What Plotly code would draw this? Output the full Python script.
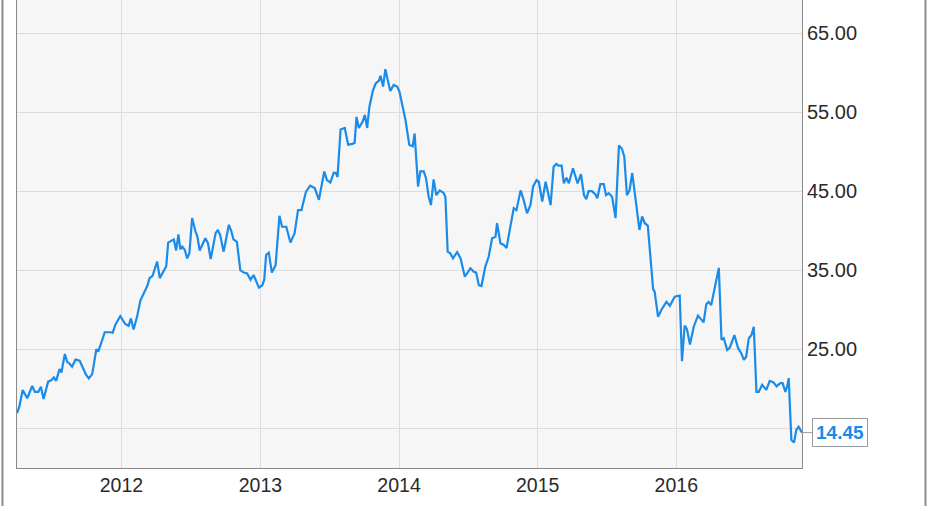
import plotly.graph_objects as go

dates = [
    "2011-04-01", "2011-04-07", "2011-04-16", "2011-04-28", "2011-05-11", "2011-05-18", "2011-05-27",
    "2011-06-03", "2011-06-10", "2011-06-22", "2011-07-01", "2011-07-07", "2011-07-13", "2011-07-22",
    "2011-07-27", "2011-08-05", "2011-08-11", "2011-08-17", "2011-08-24", "2011-09-02", "2011-09-13",
    "2011-09-22", "2011-09-30", "2011-10-07", "2011-10-16", "2011-10-27", "2011-11-01", "2011-11-09",
    "2011-11-18", "2011-12-03", "2011-12-09", "2011-12-16", "2011-12-29",
    "2012-01-11", "2012-01-20", "2012-01-26", "2012-02-02", "2012-02-11", "2012-02-20", "2012-03-09",
    "2012-03-15", "2012-03-23", "2012-04-04", "2012-04-11", "2012-04-21", "2012-04-28", "2012-05-03",
    "2012-05-12", "2012-05-18", "2012-05-24", "2012-05-30", "2012-06-04", "2012-06-09", "2012-06-16",
    "2012-06-22", "2012-06-28", "2012-07-05", "2012-07-14", "2012-07-19", "2012-07-25", "2012-08-01",
    "2012-08-09", "2012-08-16", "2012-08-23", "2012-09-05", "2012-09-11", "2012-09-17", "2012-09-26",
    "2012-10-10", "2012-10-16", "2012-10-22", "2012-10-31", "2012-11-09", "2012-11-18", "2012-11-27",
    "2012-12-06", "2012-12-14", "2012-12-19", "2012-12-28",
    "2013-01-06", "2013-01-11", "2013-01-16", "2013-01-23", "2013-01-31", "2013-02-10", "2013-02-20",
    "2013-02-27", "2013-03-10", "2013-03-21", "2013-04-01", "2013-04-10", "2013-04-19", "2013-05-01",
    "2013-05-12", "2013-05-24", "2013-06-04", "2013-06-18", "2013-06-25", "2013-07-04", "2013-07-13",
    "2013-07-19", "2013-07-23", "2013-07-31", "2013-08-11", "2013-08-20", "2013-08-31", "2013-09-06",
    "2013-09-11", "2013-09-17", "2013-09-27", "2013-10-03", "2013-10-09", "2013-10-15", "2013-10-24",
    "2013-10-31", "2013-11-09", "2013-11-13", "2013-11-20", "2013-11-26", "2013-12-02", "2013-12-09",
    "2013-12-18", "2013-12-27",
    "2014-01-02", "2014-01-09", "2014-01-18", "2014-01-28", "2014-02-06", "2014-02-11", "2014-02-20",
    "2014-02-26", "2014-03-07", "2014-03-13", "2014-03-20", "2014-03-26", "2014-04-02", "2014-04-09",
    "2014-04-18", "2014-04-28", "2014-05-03", "2014-05-09", "2014-05-16", "2014-05-23", "2014-06-03",
    "2014-06-12", "2014-06-23", "2014-06-29", "2014-07-08", "2014-07-17", "2014-07-23", "2014-07-30",
    "2014-08-06", "2014-08-16", "2014-08-25", "2014-09-03", "2014-09-12", "2014-09-16", "2014-09-25",
    "2014-10-04", "2014-10-11", "2014-10-21", "2014-10-30", "2014-11-06", "2014-11-17", "2014-11-25",
    "2014-12-04", "2014-12-13", "2014-12-20", "2014-12-29",
    "2015-01-04", "2015-01-13", "2015-01-22", "2015-02-04", "2015-02-12", "2015-02-19", "2015-02-25",
    "2015-03-05", "2015-03-11", "2015-03-18", "2015-03-24", "2015-04-04", "2015-04-10", "2015-04-16",
    "2015-04-25", "2015-05-03", "2015-05-09", "2015-05-15", "2015-05-24", "2015-06-02", "2015-06-07",
    "2015-06-15", "2015-06-24", "2015-06-30", "2015-07-07", "2015-07-16", "2015-07-25", "2015-08-03",
    "2015-08-11", "2015-08-17", "2015-08-24", "2015-08-31", "2015-09-07", "2015-09-17", "2015-09-26",
    "2015-10-03", "2015-10-10", "2015-10-18", "2015-10-25", "2015-11-01", "2015-11-05", "2015-11-14",
    "2015-11-23", "2015-12-06", "2015-12-15", "2015-12-28",
    "2016-01-10", "2016-01-16", "2016-01-23", "2016-01-29", "2016-02-06", "2016-02-16", "2016-02-27",
    "2016-03-08", "2016-03-13", "2016-03-20", "2016-03-26", "2016-04-02", "2016-04-08", "2016-04-16",
    "2016-04-22", "2016-04-29", "2016-05-05", "2016-05-14", "2016-05-21", "2016-06-02", "2016-06-12",
    "2016-06-20", "2016-06-27", "2016-07-03", "2016-07-10", "2016-07-17", "2016-07-23", "2016-07-30",
    "2016-08-05", "2016-08-14", "2016-08-25", "2016-09-03", "2016-09-13", "2016-09-21", "2016-10-01",
    "2016-10-07", "2016-10-14", "2016-10-19", "2016-10-23", "2016-10-30", "2016-11-06", "2016-11-12",
    "2016-11-18", "2016-11-27",
]

prices = [
    16.9, 17.7, 19.85, 18.8, 20.35, 19.6, 19.6,
    20.25, 18.7, 20.9, 21.1, 21.45, 21.0, 22.5,
    22.05, 24.4, 23.4, 23.2, 22.8, 23.7, 23.55,
    22.6, 21.75, 21.3, 21.85, 25.0, 24.7, 25.85,
    27.15, 27.15, 27.1, 28.1, 29.2,
    28.2, 27.95, 28.9, 27.5, 29.1, 31.2, 33.0,
    34.0, 34.3, 36.1, 34.0, 34.8, 35.5, 38.5,
    38.75, 38.9, 37.5, 39.55, 37.65, 38.0, 37.55,
    36.5, 37.15, 41.6, 39.9, 39.25, 37.5, 38.2,
    39.05, 38.4, 36.4, 39.7, 40.1, 39.45, 37.35,
    40.75, 40.0, 38.9, 38.6, 35.0, 34.7, 34.6,
    33.8, 34.4, 33.85, 32.8,
    33.1, 33.8, 36.95, 37.2, 34.7, 35.65, 41.9,
    40.5, 40.5, 38.5, 39.7, 42.6, 42.6, 44.95,
    45.7, 45.4, 43.9, 47.5, 46.4, 46.1, 47.35,
    47.3, 46.8, 52.8, 53.0, 50.9, 51.0, 51.1,
    54.4, 53.0, 53.8, 54.65, 53.0, 55.7, 57.7,
    58.6, 59.0, 59.6, 58.25, 60.45, 59.1, 57.7,
    58.45, 58.25,
    57.6, 56.1, 54.0, 50.85, 50.7, 52.3, 45.6,
    47.5, 47.5, 46.65, 44.3, 43.25, 46.5, 44.5,
    45.1, 44.8, 44.3, 37.35, 37.15, 36.5, 37.3,
    36.5, 34.2, 34.6, 35.25, 34.8, 34.7, 33.1,
    33.0, 35.45, 36.7, 39.05, 39.25, 40.95, 38.4,
    38.2, 37.8, 40.5, 42.85, 42.6, 45.1, 43.9,
    42.2, 43.25, 45.6, 46.4,
    46.2, 43.7, 46.2, 43.25, 48.1, 48.45, 48.25,
    48.25, 46.0, 46.7, 46.0, 47.9, 47.05, 46.0,
    47.15, 44.5, 44.0, 45.0, 45.0, 44.6, 44.1,
    45.9, 45.9, 44.5, 44.75, 44.3, 41.6, 50.8,
    50.35, 49.4, 44.5, 45.15, 47.3, 43.25, 40.1,
    41.8, 40.95, 40.65, 36.1, 32.6, 32.3, 29.1,
    30.0, 31.0, 30.5, 31.65,
    31.8, 23.5, 28.0, 27.55, 25.6, 27.85, 29.25,
    28.6, 28.4, 30.7, 31.0, 30.6, 32.1, 33.8,
    35.3, 26.2, 26.4, 24.9, 25.2, 26.8, 25.1,
    24.5, 23.65, 24.05, 26.4, 26.8, 27.85, 19.6,
    19.6, 20.5, 19.85, 21.0, 20.8, 20.3, 20.7,
    20.7, 19.6, 20.3, 21.35, 13.5, 13.2, 14.8,
    15.2, 14.45,
]

y_ticks = [15, 25, 35, 45, 55, 65]
# the 15.00 label is hidden behind the last-value box in the original
y_tick_text = ["", "25.00", "35.00", "45.00", "55.00", "65.00"]
x_range = ["2011-04-01", "2016-11-27"]
y_range = [9.97, 69.2]
last_label = "14.45"

LINE = "#1a8be8"
GRID = "#dcdcdc"
AXIS = "#8a8a8a"
TEXT = "#2a2a2a"
FONT = "Liberation Sans, Arial, sans-serif"

fig = go.Figure()
fig.add_trace(go.Scatter(
    x=dates, y=prices, mode="lines",
    line=dict(color=LINE, width=2.2), hoverinfo="x+y", showlegend=False,
))

fig.add_annotation(
    x=dates[-1], y=prices[-1], xref="x", yref="y",
    text="<b>" + last_label + "</b>",
    showarrow=True, arrowhead=0, arrowwidth=1, arrowcolor="#9a9a9a",
    ax=38, ay=0,
    bgcolor="white", bordercolor="#9a9a9a", borderwidth=1, borderpad=3,
    font=dict(family=FONT, size=19, color=LINE),
)

# outer frame lines of the widget
for px in (-0.0185, 1.1573):
    fig.add_shape(type="line", xref="paper", yref="paper",
                  x0=px, x1=px, y0=-0.2, y1=1.1,
                  line=dict(color="#8c8c8c", width=2))

fig.update_layout(
    width=931, height=506,
    margin=dict(l=17, r=129, t=0, b=38),
    paper_bgcolor="white", plot_bgcolor="#f6f6f6",
    font=dict(family=FONT, size=20, color=TEXT),
    xaxis=dict(
        type="date", range=x_range, dtick="M12", tick0="2012-01-01", tickformat="%Y",
        showgrid=True, gridcolor=GRID, gridwidth=1,
        showline=True, linecolor=AXIS, linewidth=1, mirror=False,
        ticks="", zeroline=False, fixedrange=True,
        tickfont=dict(size=19.5),
    ),
    yaxis=dict(
        side="right", range=y_range, tickvals=y_ticks, ticktext=y_tick_text,
        showgrid=True, gridcolor=GRID, gridwidth=1,
        showline=True, linecolor=AXIS, linewidth=1, mirror=True,
        ticks="", zeroline=False, fixedrange=True,
    ),
)

fig.write_html(
    "out.html",
    config={"displayModeBar": False},
    post_script="document.body.style.margin='0';document.body.style.padding='0';",
)
